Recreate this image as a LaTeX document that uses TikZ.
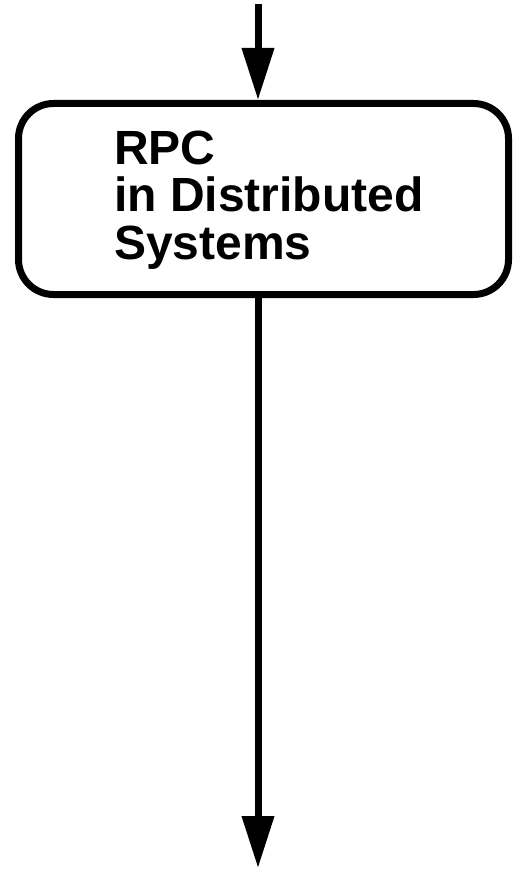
\documentclass[tikz,border=0pt]{standalone}
\usepackage{fontspec}
\setmainfont{Liberation Sans}
\usetikzlibrary{arrows.meta}
\begin{document}
\begin{tikzpicture}[x=1pt,y=-1pt,
  flowline/.style={line width=7pt,-{Triangle[length=52pt 0 0,width=31pt 0 0]}},
  roundbox/.style={draw,line width=7pt,rounded corners=35pt,minimum width=490pt,minimum height=191pt,inner sep=0pt},
  boxtext/.style={font=\bfseries\fontsize{48}{47.5}\selectfont,align=left,inner sep=0pt,anchor=north west}]
\useasboundingbox (0,0) rectangle (513,869);
\node[roundbox] (box) at (263.5,199) {};
\node[boxtext] (label) at (114,130.5) {RPC\\in Distributed\\Systems};
\coordinate (start) at (258,4);
\coordinate (end) at (258,868);
\draw[flowline] (start) -- (start |- box.north);
\draw[flowline] (start |- box.south) -- (end);
\end{tikzpicture}
\end{document}
